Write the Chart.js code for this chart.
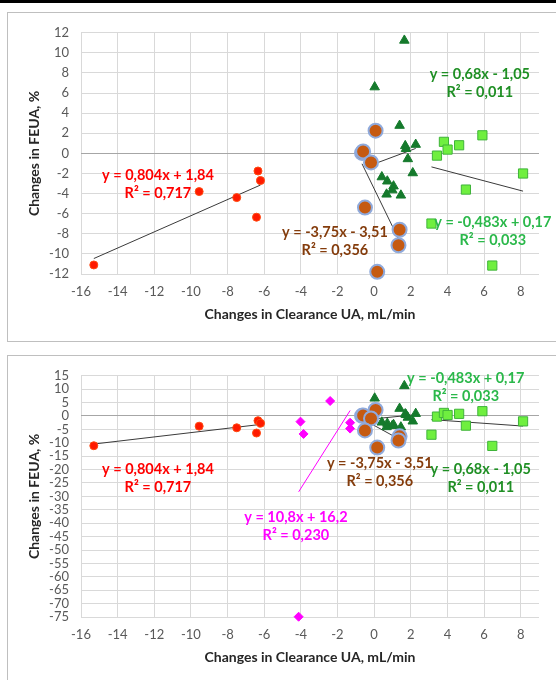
<!DOCTYPE html>
<html>
<head>
<meta charset="utf-8">
<script src="https://cdn.jsdelivr.net/npm/chart.js@4.4.1/dist/chart.umd.min.js"></script>
<style>
body { margin: 0; background: #fff; width: 556px; height: 680px; overflow: hidden; position: relative; }
.topbar { position: absolute; left: 0; top: 0; width: 556px; height: 3px; background: #000; }
.box { position: absolute; left: 7px; width: 560px; height: 328px; border: 1px solid #bfbfbf; background: #fff; }
#box1 { top: 12px; }
#box2 { top: 355px; }
canvas { display: block; }
</style>
</head>
<body>
<div class="topbar"></div>
<div class="box" id="box1"><canvas id="c1" width="548" height="328"></canvas></div>
<div class="box" id="box2"><canvas id="c2" width="548" height="328"></canvas></div>
<script>
// valores
const redX = [-15.3, -9.55, -7.5, -6.42, -6.34, -6.2];
const redY = [-11.1, -3.8, -4.4, -6.35, -1.75, -2.7];

const brownX = [-0.66, -0.6, 0.08, -0.17, -0.5, 1.39, 1.33, 0.17];
const brownY = [0.05, 0.2, 2.26, -0.9, -5.39, -7.6, -9.14, -11.78];

const dkGreenX = [0.42, 0.72, 1.06, 0.99, 0.68, 1.46, 1.39, 0.03, 1.65, 1.7, 1.74, 2.27, 1.84, 2.11];
const dkGreenY = [-2.35, -2.77, -3.26, -3.65, -4.07, -4.17, 2.77, 6.6, 11.24, 0.75, 0.46, 0.88, -0.55, -1.95];

const ltGreenX = [3.13, 3.43, 3.81, 4.01, 4.64, 5.01, 5.91, 6.45, 8.13];
const ltGreenY = [-6.98, -0.22, 1.15, 0.38, 0.81, -3.6, 1.8, -11.16, -2.0];

const magentaX = [-2.4, -4.02, -3.85, -1.31, -1.31, -4.12];
const magentaY = [5.6, -2.1, -6.7, -2.5, -4.7, -74.9];

// lineas de tendencia (y = a x + b) y textos
const fitSlope = [0.804, -3.75, 0.68, -0.483, 10.8];
const fitIntercept = [1.84, -3.51, -1.05, 0.17, 16.2];
const fitText = ['y = 0,804x + 1,84', 'y = -3,75x - 3,51', 'y = 0,68x - 1,05', 'y = -0,483x + 0,17', 'y = 10,8x + 16,2'];
const r2Text = ['R² = 0,717', 'R² = 0,356', 'R² = 0,011', 'R² = 0,033', 'R² = 0,230'];

const xTitle = 'Changes in Clearance UA, mL/min';
const yTitle = 'Changes in FEUA, %';

const seriesX = [redX, brownX, dkGreenX, ltGreenX, magentaX];
const seriesY = [redY, brownY, dkGreenY, ltGreenY, magentaY];

// estilos
const styles = [
  { bg: '#ff1a00', border: '#ff4a10', bw: 1, shape: 'circle', r: 4, text: '#ff0000', line: '#3a3a3a' },
  { bg: '#c55a11', border: '#8faadc', bw: 2, shape: 'circle', r: 7, text: '#843c0c', line: '#3a3a3a' },
  { bg: '#157a2c', border: '#157a2c', bw: 1, shape: 'triangle', r: 5.5, text: '#1f8f24', line: '#3a3a3a' },
  { bg: '#6fef3f', border: '#3fb43a', bw: 1, shape: 'rect', r: 6.5, text: '#2ab84a', line: '#3a3a3a' },
  { bg: '#ff00ff', border: '#ff00ff', bw: 1, shape: 'rectRot', r: 4.5, text: '#ff00ff', line: '#ff00ff' }
];

Chart.defaults.font.family = 'Lato, "Open Sans", sans-serif';

const eqLabels = {
  id: 'eqLabels',
  afterDatasetsDraw(chart, args, opts) {
    const { ctx, scales: { x, y } } = chart;
    ctx.save();
    ctx.font = 'bold 14.5px Lato, "Open Sans", sans-serif';
    ctx.textAlign = 'center';
    ctx.textBaseline = 'middle';
    opts.items.forEach(it => {
      const px = x.getPixelForValue(it.x), py = y.getPixelForValue(it.y);
      ctx.fillStyle = styles[it.s].text;
      ctx.fillText(fitText[it.s], px, py - 9);
      ctx.fillText(r2Text[it.s], px, py + 9);
    });
    ctx.restore();
  }
};

function makeChart(id, which, yMin, yMax, yStep, labelItems) {
  const datasets = [];
  which.forEach(s => {
    const st = styles[s];
    datasets.push({
      data: seriesX[s].map((v, i) => ({ x: v, y: seriesY[s][i] })),
      backgroundColor: st.bg, borderColor: st.border, borderWidth: st.bw,
      pointStyle: st.shape, pointRadius: st.r, pointHoverRadius: st.r, clip: false
    });
  });
  which.forEach(s => {
    const lo = Math.min(...seriesX[s]), hi = Math.max(...seriesX[s]);
    datasets.push({
      data: [lo, hi].map(v => ({ x: v, y: fitSlope[s] * v + fitIntercept[s] })),
      showLine: true, pointRadius: 0, borderColor: styles[s].line, borderWidth: 1
    });
  });
  return new Chart(document.getElementById(id), {
    type: 'scatter',
    data: { datasets },
    plugins: [eqLabels],
    options: {
      responsive: false, animation: false, devicePixelRatio: 1,
      layout: { padding: { left: 0, right: 17, top: 16, bottom: 0 } },
      plugins: { legend: { display: false }, tooltip: { enabled: false }, eqLabels: { items: labelItems } },
      scales: {
        x: {
          type: 'linear', min: -16, max: 9,
          afterFit: sc => { sc.height = 67; },
          border: { display: false },
          grid: { color: '#d9d9d9', drawTicks: false },
          ticks: { stepSize: 2, includeBounds: false, padding: 10, color: '#595959', font: { size: 13 } },
          title: { display: true, text: xTitle, color: '#262626', font: { size: 14, weight: 'bold' }, padding: { top: 0, bottom: 18 } }
        },
        y: {
          type: 'linear', min: yMin, max: yMax,
          afterFit: sc => { sc.width = 73; },
          border: { display: false },
          grid: { color: c => c.tick && c.tick.value === 0 ? '#a6a6a6' : '#d9d9d9', drawTicks: false },
          ticks: { stepSize: yStep, autoSkip: false, padding: 12, color: '#595959', font: { size: 13 } },
          title: { display: true, text: yTitle, color: '#262626', font: { size: 14, weight: 'bold' }, padding: { top: 18.5, bottom: 0 } }
        }
      }
    }
  });
}

makeChart('c1', [0, 1, 2, 3], -12, 12, 2, [
  { s: 0, x: -11.8, y: -3.1 },
  { s: 2, x: 5.77, y: 6.93 },
  { s: 1, x: -2.14, y: -8.74 },
  { s: 3, x: 6.48, y: -7.77 }
]);

makeChart('c2', [0, 4, 1, 2, 3], -75, 15, 5, [
  { s: 0, x: -11.8, y: -23.2 },
  { s: 1, x: 0.31, y: -21.0 },
  { s: 2, x: 5.82, y: -23.2 },
  { s: 3, x: 5.0, y: 10.86 },
  { s: 4, x: -4.27, y: -41.2 }
]);
</script>
</body>
</html>
